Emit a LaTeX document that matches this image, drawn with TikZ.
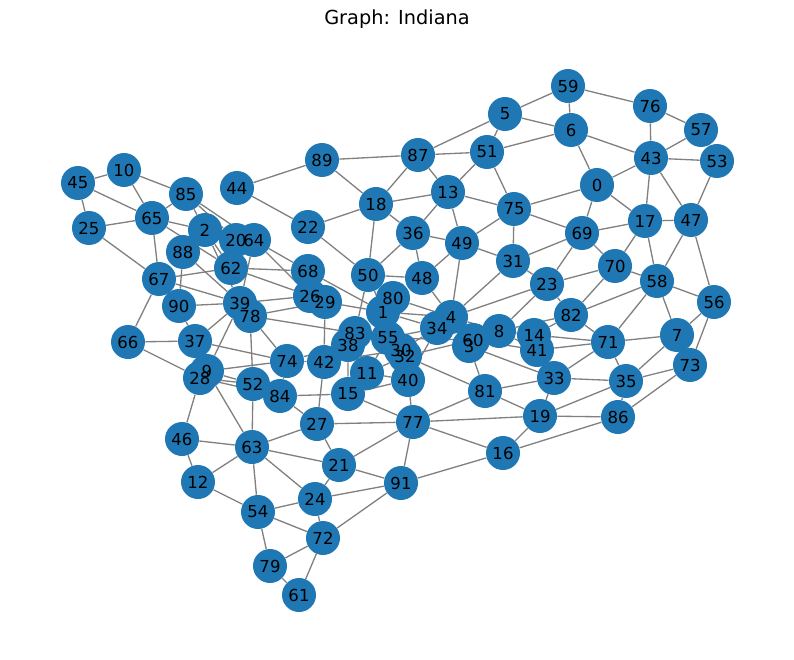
\documentclass[tikz,border=0pt]{standalone}
\usepackage{fontspec}
\setmainfont{DejaVu Sans}
\definecolor{nodeblue}{HTML}{1F77B4}
\pgfdeclarelayer{edges}
\pgfdeclarelayer{discs}
\pgfsetlayers{edges,discs,main}
\tikzset{
  vtx/.style={circle, minimum size=0.68cm, inner sep=0pt, font=\fontsize{9.4}{10}\selectfont,
    append after command={\pgfextra{\begin{pgfonlayer}{discs}
      \fill[nodeblue] (\tikzlastnode.center) circle (0.34cm);
    \end{pgfonlayer}}}},
  edge/.style={draw=gray, line width=0.75pt}
}

\begin{document}
\begin{tikzpicture}[x=0.02cm, y=-0.02cm]
\useasboundingbox (0,0) rectangle (794,659);
% Title
\node[font=\fontsize{11}{13}\selectfont] (title) at (397,19) {Graph: Indiana};

% Vertices (pixel positions)
\node[vtx] (n0) at (597,185) {0};
\node[vtx] (n1) at (383,312) {1};
\node[vtx] (n2) at (205,230) {2};
\node[vtx] (n3) at (469,346) {3};
\node[vtx] (n4) at (451,317) {4};
\node[vtx] (n5) at (505,114) {5};
\node[vtx] (n6) at (571,130) {6};
\node[vtx] (n7) at (677,335) {7};
\node[vtx] (n8) at (499,331) {8};
\node[vtx] (n9) at (207,371) {9};
\node[vtx] (n10) at (124,170) {10};
\node[vtx] (n11) at (367,373) {11};
\node[vtx] (n12) at (198,482) {12};
\node[vtx] (n13) at (448,192) {13};
\node[vtx] (n14) at (534,335) {14};
\node[vtx] (n15) at (348,394) {15};
\node[vtx] (n16) at (503,453) {16};
\node[vtx] (n17) at (645,221) {17};
\node[vtx] (n18) at (376,204) {18};
\node[vtx] (n19) at (540,416) {19};
\node[vtx] (n20) at (236,240) {20};
\node[vtx] (n21) at (339,465) {21};
\node[vtx] (n22) at (308,227) {22};
\node[vtx] (n23) at (547,284) {23};
\node[vtx] (n24) at (315,499) {24};
\node[vtx] (n25) at (89,228) {25};
\node[vtx] (n26) at (310,296) {26};
\node[vtx] (n27) at (317,424) {27};
\node[vtx] (n28) at (200,378) {28};
\node[vtx] (n29) at (325,302) {29};
\node[vtx] (n30) at (401,350) {30};
\node[vtx] (n31) at (513,261) {31};
\node[vtx] (n32) at (405,356) {32};
\node[vtx] (n33) at (554,378) {33};
\node[vtx] (n34) at (437,328) {34};
\node[vtx] (n35) at (626,381) {35};
\node[vtx] (n36) at (413,233) {36};
\node[vtx] (n37) at (195,341) {37};
\node[vtx] (n38) at (348,345) {38};
\node[vtx] (n39) at (240,303) {39};
\node[vtx] (n40) at (408,380) {40};
\node[vtx] (n41) at (537,350) {41};
\node[vtx] (n42) at (324,362) {42};
\node[vtx] (n43) at (651,158) {43};
\node[vtx] (n44) at (237,188) {44};
\node[vtx] (n45) at (78,183) {45};
\node[vtx] (n46) at (182,439) {46};
\node[vtx] (n47) at (691,220) {47};
\node[vtx] (n48) at (422,278) {48};
\node[vtx] (n49) at (462,243) {49};
\node[vtx] (n50) at (368,275) {50};
\node[vtx] (n51) at (487,152) {51};
\node[vtx] (n52) at (253,384) {52};
\node[vtx] (n53) at (717,161) {53};
\node[vtx] (n54) at (258,512) {54};
\node[vtx] (n55) at (388,338) {55};
\node[vtx] (n56) at (714,302) {56};
\node[vtx] (n57) at (701,130) {57};
\node[vtx] (n58) at (657,281) {58};
\node[vtx] (n59) at (568,86) {59};
\node[vtx] (n60) at (473,340) {60};
\node[vtx] (n61) at (299,595) {61};
\node[vtx] (n62) at (231,268) {62};
\node[vtx] (n63) at (252,447) {63};
\node[vtx] (n64) at (254,240) {64};
\node[vtx] (n65) at (152,218) {65};
\node[vtx] (n66) at (128,342) {66};
\node[vtx] (n67) at (159,279) {67};
\node[vtx] (n68) at (308,271) {68};
\node[vtx] (n69) at (582,233) {69};
\node[vtx] (n70) at (615,266) {70};
\node[vtx] (n71) at (608,342) {71};
\node[vtx] (n72) at (323,538) {72};
\node[vtx] (n73) at (690,365) {73};
\node[vtx] (n74) at (287,361) {74};
\node[vtx] (n75) at (514,209) {75};
\node[vtx] (n76) at (650,106) {76};
\node[vtx] (n77) at (413,422) {77};
\node[vtx] (n78) at (250,316) {78};
\node[vtx] (n79) at (270,566) {79};
\node[vtx] (n80) at (393,298) {80};
\node[vtx] (n81) at (485,391) {81};
\node[vtx] (n82) at (571,315) {82};
\node[vtx] (n83) at (355,333) {83};
\node[vtx] (n84) at (280,396) {84};
\node[vtx] (n85) at (186,194) {85};
\node[vtx] (n86) at (618,417) {86};
\node[vtx] (n87) at (418,155) {87};
\node[vtx] (n88) at (183,252) {88};
\node[vtx] (n89) at (322,160) {89};
\node[vtx] (n90) at (179,306) {90};
\node[vtx] (n91) at (401,483) {91};

% Edges
\begin{pgfonlayer}{edges}
\draw[edge] (n45) -- (n10) (n45) -- (n25) (n45) -- (n65);
\draw[edge] (n10) -- (n65) (n10) -- (n85);
\draw[edge] (n25) -- (n65) (n25) -- (n67);
\draw[edge] (n65) -- (n85) (n65) -- (n67) (n65) -- (n2) (n65) -- (n62);
\draw[edge] (n85) -- (n2) (n85) -- (n20) (n85) -- (n64);
\draw[edge] (n2) -- (n62) (n2) -- (n39);
\draw[edge] (n88) -- (n39) (n88) -- (n90);
\draw[edge] (n67) -- (n62) (n67) -- (n39) (n67) -- (n66);
\draw[edge] (n44) -- (n89) (n44) -- (n22);
\draw[edge] (n89) -- (n87) (n89) -- (n18);
\draw[edge] (n87) -- (n18) (n87) -- (n13) (n87) -- (n51) (n87) -- (n5);
\draw[edge] (n18) -- (n13) (n18) -- (n22) (n18) -- (n36) (n18) -- (n50);
\draw[edge] (n13) -- (n36) (n13) -- (n51) (n13) -- (n75) (n13) -- (n49);
\draw[edge] (n22) -- (n50);
\draw[edge] (n36) -- (n50) (n36) -- (n48) (n36) -- (n49);
\draw[edge] (n50) -- (n48) (n50) -- (n83) (n50) -- (n1);
\draw[edge] (n48) -- (n49) (n48) -- (n4);
\draw[edge] (n64) -- (n68) (n64) -- (n39) (n64) -- (n26);
\draw[edge] (n62) -- (n68) (n62) -- (n26);
\draw[edge] (n39) -- (n26) (n39) -- (n90) (n39) -- (n37) (n39) -- (n9);
\draw[edge] (n78) -- (n29) (n78) -- (n52) (n78) -- (n74) (n78) -- (n83);
\draw[edge] (n37) -- (n90) (n37) -- (n66) (n37) -- (n74);
\draw[edge] (n66) -- (n28);
\draw[edge] (n28) -- (n52) (n28) -- (n46) (n28) -- (n84);
\draw[edge] (n9) -- (n52) (n9) -- (n63) (n9) -- (n74);
\draw[edge] (n59) -- (n5) (n59) -- (n6) (n59) -- (n76);
\draw[edge] (n5) -- (n6) (n5) -- (n51);
\draw[edge] (n6) -- (n51) (n6) -- (n43) (n6) -- (n0);
\draw[edge] (n51) -- (n75);
\draw[edge] (n0) -- (n75) (n0) -- (n69) (n0) -- (n43) (n0) -- (n17);
\draw[edge] (n75) -- (n69) (n75) -- (n49) (n75) -- (n31);
\draw[edge] (n49) -- (n31) (n49) -- (n4);
\draw[edge] (n31) -- (n23) (n31) -- (n4) (n31) -- (n69);
\draw[edge] (n69) -- (n23) (n69) -- (n17) (n69) -- (n70);
\draw[edge] (n76) -- (n43) (n76) -- (n57);
\draw[edge] (n57) -- (n43) (n57) -- (n53);
\draw[edge] (n43) -- (n53) (n43) -- (n17) (n43) -- (n47);
\draw[edge] (n53) -- (n47);
\draw[edge] (n17) -- (n47) (n17) -- (n70) (n17) -- (n58);
\draw[edge] (n47) -- (n58) (n47) -- (n56);
\draw[edge] (n70) -- (n58) (n70) -- (n23) (n70) -- (n82);
\draw[edge] (n23) -- (n82) (n23) -- (n4) (n23) -- (n8);
\draw[edge] (n58) -- (n56) (n58) -- (n82) (n58) -- (n71) (n58) -- (n7);
\draw[edge] (n56) -- (n7) (n56) -- (n73);
\draw[edge] (n82) -- (n14) (n82) -- (n8) (n82) -- (n71);
\draw[edge] (n14) -- (n71) (n14) -- (n8);
\draw[edge] (n41) -- (n71) (n41) -- (n8);
\draw[edge] (n71) -- (n7) (n71) -- (n35) (n71) -- (n33);
\draw[edge] (n7) -- (n35);
\draw[edge] (n73) -- (n35) (n73) -- (n86);
\draw[edge] (n33) -- (n35) (n33) -- (n19) (n33) -- (n81) (n33) -- (n3);
\draw[edge] (n35) -- (n19) (n35) -- (n86);
\draw[edge] (n19) -- (n86) (n19) -- (n77) (n19) -- (n16) (n19) -- (n81);
\draw[edge] (n86) -- (n16);
\draw[edge] (n77) -- (n15) (n77) -- (n40) (n77) -- (n81) (n77) -- (n16) (n77) -- (n21) (n77) -- (n91) (n77) -- (n27);
\draw[edge] (n15) -- (n40) (n15) -- (n84) (n15) -- (n38);
\draw[edge] (n16) -- (n91);
\draw[edge] (n91) -- (n21) (n91) -- (n24) (n91) -- (n72);
\draw[edge] (n63) -- (n46) (n63) -- (n52) (n63) -- (n27) (n63) -- (n21) (n63) -- (n24) (n63) -- (n54) (n63) -- (n12);
\draw[edge] (n46) -- (n12);
\draw[edge] (n12) -- (n54);
\draw[edge] (n84) -- (n27) (n84) -- (n74);
\draw[edge] (n27) -- (n21) (n27) -- (n42);
\draw[edge] (n21) -- (n24);
\draw[edge] (n24) -- (n54) (n24) -- (n72);
\draw[edge] (n54) -- (n72) (n54) -- (n79);
\draw[edge] (n72) -- (n79) (n72) -- (n61);
\draw[edge] (n79) -- (n61);
\draw[edge] (n68) -- (n26) (n68) -- (n1);
\draw[edge] (n29) -- (n42) (n29) -- (n1);
\draw[edge] (n80) -- (n1) (n80) -- (n4);
\draw[edge] (n1) -- (n34) (n1) -- (n4);
\draw[edge] (n55) -- (n34) (n55) -- (n60) (n55) -- (n11);
\draw[edge] (n30) -- (n34);
\draw[edge] (n32) -- (n60) (n32) -- (n81) (n32) -- (n11);
\draw[edge] (n40) -- (n34) (n40) -- (n11);
\draw[edge] (n42) -- (n38) (n42) -- (n74) (n42) -- (n30);
\draw[edge] (n74) -- (n38);
\draw[edge] (n38) -- (n11);
\draw[edge] (n34) -- (n4) (n34) -- (n8);
\draw[edge] (n60) -- (n8) (n60) -- (n41);
\draw[edge] (n3) -- (n81);
\draw[edge] (n4) -- (n8);
\end{pgfonlayer}
\end{tikzpicture}
\end{document}
